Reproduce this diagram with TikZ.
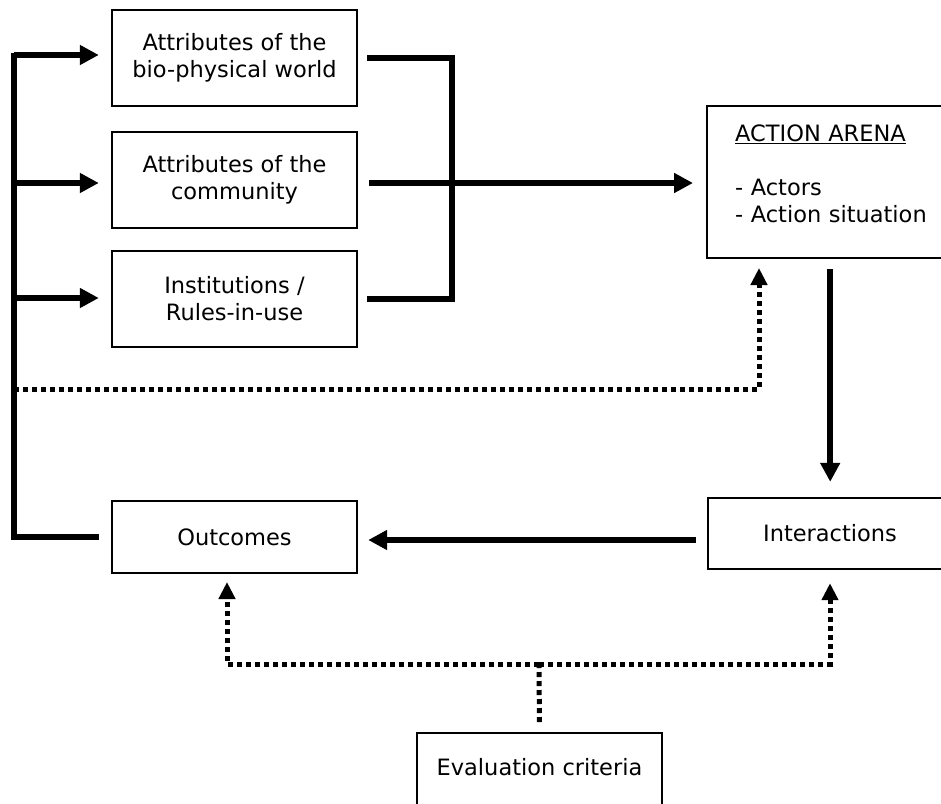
\documentclass[tikz,border=0pt]{standalone}
\usepackage{fontspec}
\setmainfont{DejaVu Sans}
\usetikzlibrary{arrows.meta}
\begin{document}
\begin{tikzpicture}[x=1pt,y=-1pt,
  box/.style={draw=black, line width=2.4pt, inner sep=0pt, align=center,
    font=\fontsize{22.5}{27}\selectfont},
  conn/.style={line width=5.5pt},
  arr/.style={conn, -{Triangle[length=19pt,width=19pt]}},
  dotline/.style={line width=5pt, dash pattern=on 5pt off 4pt},
  dotarr/.style={dotline, -{Triangle[length=17pt,width=16pt]}}]
\useasboundingbox (0,0) rectangle (941,803);
\clip (0,0) rectangle (941,803);
\fill[white] (0,0) rectangle (941,803);

% boxes
\node[box, minimum width=245pt, minimum height=96pt] (b1) at (234.5,58) {Attributes of the\\bio-physical world};
\node[box, minimum width=245pt, minimum height=96pt] (b2) at (234.5,180) {Attributes of the\\community};
\node[box, minimum width=245pt, minimum height=96pt] (b3) at (234.5,299) {Institutions /\\Rules-in-use};
\node[box, minimum width=246pt, minimum height=152pt, anchor=north west] (arena) at (706,105) {};
\node[anchor=west, align=left, inner sep=0pt, text width=205pt,
  font=\fontsize{22.5}{27}\selectfont] (arenatxt) at (735,173.5)
  {\underline{ACTION ARENA}\\[27pt]- Actors\\- Action situation};
\node[box, minimum width=244pt, minimum height=71pt] (inter) at (830,533.5) {Interactions};
\node[box, minimum width=245pt, minimum height=72pt] (outc) at (234.5,537) {Outcomes};
\node[box, minimum width=245pt, minimum height=74pt, anchor=north] (eval) at (539.5,732) {};
\node[inner sep=0pt, font=\fontsize{22.5}{27}\selectfont] (evaltxt) at (539.5,767) {Evaluation criteria};

% left feedback bar
\coordinate (lbtop) at (14,53);
\coordinate (j1) at (14,55);
\coordinate (j2) at (14,183);
\coordinate (j3) at (14,298);
\coordinate (jd) at (14,389);
\draw[conn, shorten >=12pt] (lbtop) |- (outc.west);
\draw[arr, shorten >=12pt] (j1) -- (j1 -| b1.west);
\draw[arr, shorten >=12pt] (j2) -- (j2 -| b2.west);
\draw[arr, shorten >=12pt] (j3) -- (j3 -| b3.west);

% bracket on the right of the three boxes
\coordinate (brk) at (452,0);
\draw[conn, shorten <=9pt, shorten >=9pt] (b1.east) -- (b1.east -| brk) -- (b3.east -| brk) -- (b3.east);
\draw[arr, shorten <=11pt, shorten >=13pt] (b2.east |- j2) -- (arena.west |- j2);

% dotted feedback to action arena
\coordinate (dtop) at (759,257);
\draw[dotarr, shorten >=11pt] (jd) -| (dtop);

% action arena -> interactions
\draw[arr, shorten <=10pt, shorten >=15pt] (arena.south) -- (arena.south |- inter.north);

% interactions -> outcomes
\coordinate (hl) at (0,540);
\draw[arr, shorten <=11pt, shorten >=10pt] (inter.west |- hl) -- (outc.east |- hl);

% evaluation criteria
\coordinate (ej) at (539,664);
\coordinate (ol) at (227,573);
\draw[dotline, shorten <=10pt] (eval.north) -- (ej);
\draw[dotarr, shorten >=9pt] (ej) -| (ol);
\draw[dotarr, shorten >=13pt] (ej) -| (inter.south);
\end{tikzpicture}
\end{document}
